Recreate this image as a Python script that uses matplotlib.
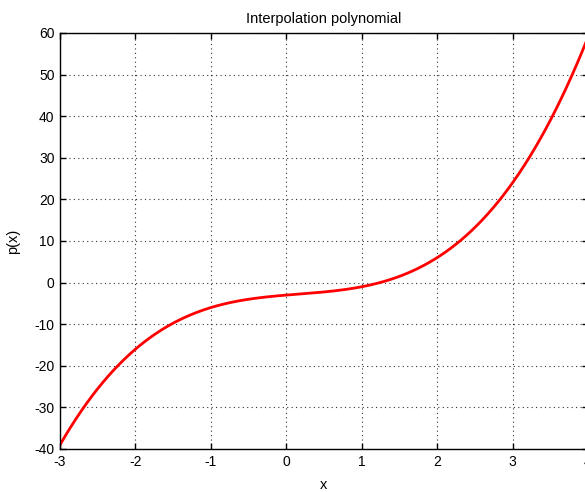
import numpy as np
import matplotlib
matplotlib.use("Agg")
import matplotlib.pyplot as plt

plt.rcParams['font.family'] = ['Liberation Sans', 'DejaVu Sans']
plt.rcParams['axes.unicode_minus'] = False

# interpolation nodes
x_nodes = [-2, 0, 1, 3]
y_nodes = [-16, -3, -1, 24]
x_range = [-3, 4]
x_ticks = [-3, -2, -1, 0, 1, 2, 3, 4]
y_ticks = [-40, -30, -20, -10, 0, 10, 20, 30, 40, 50, 60]

coeffs = np.polyfit(x_nodes, y_nodes, len(x_nodes) - 1)
xs = np.linspace(x_range[0], x_range[1], 400)
ys = np.polyval(coeffs, xs)

W, H = 585, 492
fig = plt.figure(figsize=(W / 100, H / 100), dpi=100)
left, right, top, bottom = 60, 588, 33, 449
ax = fig.add_axes([left / W, 1 - bottom / H, (right - left) / W, (bottom - top) / H])

ax.plot(xs, ys, color='red', lw=2.0)
ax.set_xlim(-3, 4)
ax.set_ylim(-40, 60)
ax.set_xticks(x_ticks)
ax.set_yticks(y_ticks)
ax.grid(True, color='#333333', linestyle=(0, (1, 3)), linewidth=0.8)
ax.tick_params(direction='in', length=4, width=1, labelsize=10, top=True, right=True, pad=4)
for s in ax.spines.values():
    s.set_linewidth(1)
ax.set_title('Interpolation polynomial', fontsize=10.5, pad=7)
ax.set_xlabel('x', fontsize=10.5, labelpad=7)
ax.set_ylabel('p(x)', fontsize=10.5, labelpad=10)

fig.savefig('out.png', dpi=100)
